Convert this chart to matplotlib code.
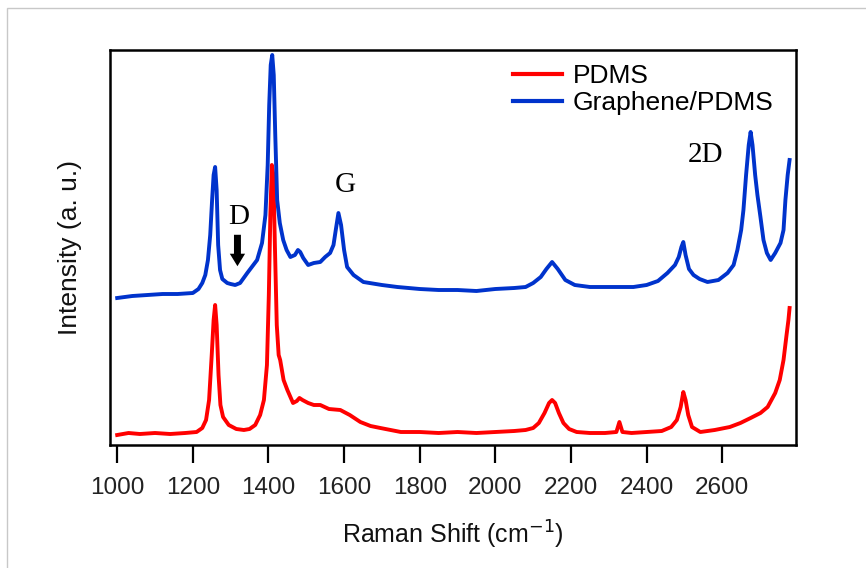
import matplotlib
matplotlib.use("Agg")
import matplotlib.pyplot as plt
from matplotlib.patches import Rectangle

# Raman shift (cm^-1) and intensity (arbitrary units)
pdms_x = [1000, 1030, 1060, 1100, 1140, 1180, 1210, 1225, 1235, 1243, 1250, 1255, 1259, 1263, 1268,
          1273, 1280, 1295, 1315, 1335, 1350, 1365, 1378, 1388, 1396, 1401, 1405, 1409, 1413, 1417,
          1422, 1427, 1431, 1440, 1450, 1465, 1475, 1482, 1490, 1505, 1520, 1537, 1560, 1590, 1615,
          1643, 1670, 1696, 1750, 1800, 1850, 1900, 1950, 2000, 2050, 2080, 2100, 2115, 2130, 2142,
          2150, 2158, 2168, 2180, 2195, 2215, 2250, 2290, 2320, 2328, 2336, 2360, 2400, 2440, 2465,
          2480, 2490, 2497, 2503, 2510, 2520, 2542, 2580, 2620, 2648, 2675, 2701, 2720, 2740, 2752,
          2762, 2770, 2775, 2778]
pdms_y = [10, 12, 11, 12, 11, 12, 13, 17, 25, 45, 90, 125, 140, 120, 70,
          40, 28, 20, 16, 15, 16, 20, 30, 45, 80, 150, 230, 280, 270, 200,
          120, 90, 85, 65, 55, 42, 44, 47, 45, 42, 40, 40, 36, 35, 30,
          23, 19, 17, 13, 13, 12, 13, 12, 13, 14, 15, 17, 22, 32, 42,
          45, 42, 32, 22, 16, 13, 12, 12, 13, 23, 13, 12, 13, 14, 18,
          25, 38, 53, 45, 30, 18, 13, 15, 18, 22, 27, 32, 38, 52, 65,
          85, 110, 125, 137]

gr_x = [1000, 1040, 1080, 1120, 1160, 1200, 1215, 1225, 1233, 1240, 1246, 1251, 1255, 1259, 1263,
        1267, 1272, 1278, 1291, 1300, 1312, 1325, 1344, 1360, 1370, 1383, 1392, 1398, 1402, 1406,
        1410, 1414, 1418, 1423, 1430, 1439, 1448, 1458, 1470, 1478, 1484, 1492, 1505, 1520, 1537,
        1550, 1563, 1572, 1578, 1585, 1592, 1600, 1608, 1625, 1651, 1700, 1741, 1800, 1850, 1900,
        1950, 2000, 2050, 2080, 2100, 2120, 2135, 2150, 2165, 2185, 2210, 2250, 2290, 2330, 2365,
        2400, 2430, 2455, 2475, 2485, 2492, 2497, 2503, 2512, 2524, 2540, 2561, 2590, 2614, 2630,
        2640, 2650, 2656, 2663, 2670, 2675, 2680, 2687, 2693, 2701, 2709, 2718, 2728, 2740, 2754,
        2762, 2767, 2773, 2778]
gr_y = [147, 149, 150, 151, 151, 152, 156, 162, 170, 185, 210, 245, 270, 278, 255,
        200, 175, 166, 162, 161, 160, 162, 172, 180, 185, 202, 230, 280, 340, 380,
        390, 370, 310, 245, 222, 205, 195, 188, 190, 195, 193, 187, 180, 182, 183,
        188, 192, 200, 215, 232, 220, 195, 178, 170, 163, 160, 158, 156, 155, 155,
        154, 156, 157, 158, 162, 168, 176, 183, 176, 165, 160, 158, 158, 158, 158,
        160, 164, 172, 180, 188, 198, 203, 190, 176, 170, 166, 163, 165, 172, 180,
        195, 215, 235, 270, 300, 313, 300, 270, 250, 228, 205, 192, 185, 192, 202,
        215, 245, 270, 285]

xticks = [1000, 1200, 1400, 1600, 1800, 2000, 2200, 2400, 2600]
xtick_labels = [str(t) for t in xticks]
peak_labels = [("D", 1320, 228), ("G", 1603, 260), ("2D", 2556, 290)]

W, H = 866, 568
fig = plt.figure(figsize=(W / 100, H / 100), dpi=100)
fig.patches.append(Rectangle((7 / W, -0.1), 1.2, 1 - 8 / H + 0.1, transform=fig.transFigure,
                             fill=False, edgecolor="#c8c8c8", linewidth=1.0))

ax = fig.add_axes([110 / W, 1 - 445 / H, (796 - 110) / W, (445 - 50) / H])
ax.plot(pdms_x, pdms_y, color="#ff0000", lw=2.8, label="PDMS", solid_joinstyle="round")
ax.plot(gr_x, gr_y, color="#0033cc", lw=2.8, label="Graphene/PDMS", solid_joinstyle="round")

ax.set_xlim(981, 2795)
ax.set_ylim(0, 395)
ax.set_yticks([])
ax.set_xticks(xticks)
ax.set_xticklabels(xtick_labels, fontsize=17.5, family="Liberation Sans", color="#222222")
ax.tick_params(axis="x", direction="out", length=13, width=1.6, pad=10)
for s in ax.spines.values():
    s.set_linewidth(1.8)
    s.set_color("black")

ax.set_xlabel("Raman Shift (cm$^{-1}$)", fontsize=18, family="Liberation Sans", labelpad=14,
              color="#111111")
ax.set_ylabel("Intensity (a. u.)", fontsize=19, family="Liberation Sans", labelpad=20,
              color="#111111")

for txt, x, y in peak_labels:
    ax.text(x, y, txt, fontsize=21, family="Liberation Serif", ha="center", va="center")
ax.annotate("", xy=(1318, 176), xytext=(1318, 213),
            arrowprops=dict(arrowstyle="simple,head_width=1.1,head_length=0.9,tail_width=0.5",
                            color="black", lw=0))

leg = ax.legend(loc="upper left", bbox_to_anchor=(500 / W, 1 - 51 / H),
                bbox_transform=fig.transFigure, frameon=False, borderpad=0,
                handlelength=1.85, handletextpad=0.4, labelspacing=0.12,
                prop=dict(family="Liberation Sans", size=19))
for line in leg.get_lines():
    line.set_linewidth(3)

fig.savefig("out.png", dpi=100)
